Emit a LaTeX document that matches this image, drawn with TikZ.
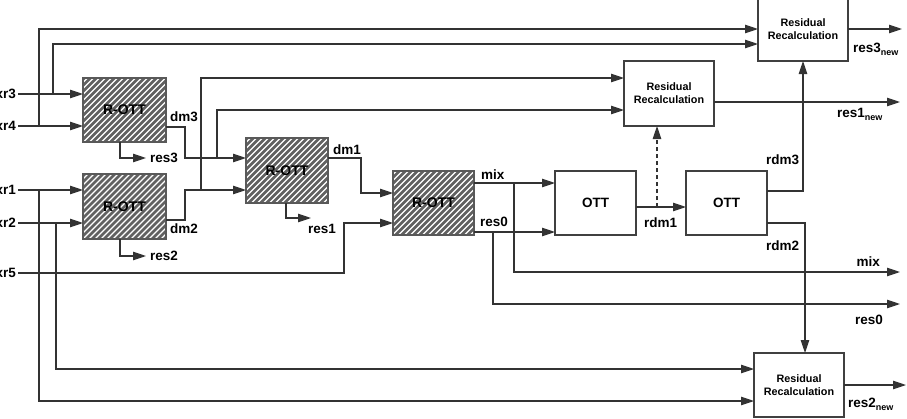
\documentclass[tikz,border=0pt]{standalone}
\usepackage{fontspec}
\setmainfont{Liberation Sans}
\usetikzlibrary{arrows.meta,calc}
\begin{document}
\begin{tikzpicture}[x=1pt,y=-1pt,
  wire/.style={draw=black!80, line width=1.1pt},
  arr/.style={wire, -{Triangle[length=13pt,width=8.5pt]}},
  dasharr/.style={arr, dash pattern=on 4pt off 3pt},
  lbl/.style={inner sep=0pt, font=\bfseries\fontsize{13.5}{16}\selectfont},
  plain/.style={draw=black!75, line width=1.1pt, fill=white, inner sep=0pt, outer sep=0pt},
  ottbox/.style={plain, minimum width=81pt, minimum height=64pt,
    font=\bfseries\fontsize{13.5}{16}\selectfont},
  rrbox/.style={plain, minimum width=90pt, minimum height=64pt, align=center,
    font=\bfseries\fontsize{10.8}{12.8}\selectfont},
  rott/.style={draw=black!65, line width=1.1pt, inner sep=0pt, outer sep=0pt,
    font=\bfseries\fontsize{14}{16}\selectfont,
    path picture={
      \fill[white] (path picture bounding box.south west) rectangle (path picture bounding box.north east);
      \foreach \k in {-14,...,14}{
        \draw[black!62, line width=2.5pt]
          ([xshift=\k*6pt]path picture bounding box.center) ++(-60pt,-60pt) -- ++(120pt,120pt);
      }
    }}
]
\useasboundingbox (0,0) rectangle (907,418);

% ---- blocks ----
\node[rott, minimum width=83pt, minimum height=64pt] (b1) at (124.5,110) {R-OTT};
\node[rott, minimum width=83pt, minimum height=65pt] (b2) at (124.5,206.5) {R-OTT};
\node[rott, minimum width=82pt, minimum height=65pt] (b3) at (287,170.5) {R-OTT};
\node[rott, minimum width=81pt, minimum height=64pt] (b4) at (433.5,203) {R-OTT};
\node[ottbox] (ott1) at (595.5,203) {OTT};
\node[ottbox] (ott2) at (726.5,203) {OTT};
\node[rrbox, minimum height=65pt] (rr1) at (669,93.5) {Residual\\Recalculation};
\node[rrbox] (rr3) at (803,29) {Residual\\Recalculation};
\node[rrbox] (rr2) at (799,385) {Residual\\Recalculation};

% ---- input signals ----
\coordinate (xr3) at (18,94);
\coordinate (xr4) at (18,126);
\coordinate (xr1) at (18,190);
\coordinate (xr2) at (18,223);
\coordinate (xr5) at (18,273);
\node[lbl, anchor=east] (lxr3) at (16,94) {xr3};
\node[lbl, anchor=east] (lxr4) at (16,126) {xr4};
\node[lbl, anchor=east] (lxr1) at (16,190) {xr1};
\node[lbl, anchor=east] (lxr2) at (16,223) {xr2};
\node[lbl, anchor=east] (lxr5) at (16,273) {xr5};

\draw[arr] (xr3) -- (xr3 -| b1.west);
\draw[arr] (xr4) -- (xr4 -| b1.west);
\draw[arr] (xr1) -- (xr1 -| b2.west);
\draw[arr] (xr2) -- (xr2 -| b2.west);

% bypass lines to the outer recalculation blocks
\coordinate (t3) at (53,44);
\coordinate (t4) at (39,29);
\coordinate (t1) at (39,401);
\coordinate (t2) at (56,369);
\draw[arr] (xr3 -| t3) -- (t3) -- (t3 -| rr3.west);
\draw[arr] (xr4 -| t4) -- (t4) -- (t4 -| rr3.west);
\draw[arr] (xr1 -| t1) -- (t1) -- (t1 -| rr2.west);
\draw[arr] (xr2 -| t2) -- (t2) -- (t2 -| rr2.west);

% xr5 into the last R-OTT
\coordinate (t5) at (344,223);
\draw[arr] (xr5) -| (t5) -- (t5 -| b4.west);

% ---- first stage outputs ----
\coordinate (o3) at (166,127);
\coordinate (o2) at (166,220);
\draw[arr] (o3) -- (185,127) -- (185,158) -- (b3.west |- 0,158);
\draw[arr] (o2) -- (185,220) -- (185,190) -- (b3.west |- 0,190);
\coordinate (j3) at (217,158);
\coordinate (j2) at (201,190);
\draw[arr] (j3) -- (217,110) -- (rr1.west |- 0,110);
\draw[arr] (j2) -- (201,78) -- (rr1.west |- 0,78);
\node[lbl, anchor=west] (ldm3) at (170,117) {dm3};
\node[lbl, anchor=west] (ldm2) at (170,229) {dm2};

\coordinate (r3) at (146,158);
\coordinate (r2) at (146,256);
\draw[arr] (b1.south -| 120,0) -- (120,158) -- (r3);
\draw[arr] (b2.south -| 120,0) -- (120,256) -- (r2);
\node[lbl, anchor=west] (lres3) at (150,158) {res3};
\node[lbl, anchor=west] (lres2) at (150,256) {res2};

% ---- second stage ----
\coordinate (o1) at (328,158);
\draw[arr] (o1) -- (361,158) -- (361,193) -- (b4.west |- 0,193);
\node[lbl, anchor=west] (ldm1) at (333,150) {dm1};
\coordinate (r1) at (311,218);
\draw[arr] (b3.south -| 286,0) -- (286,218) -- (r1);
\node[lbl, anchor=west] (lres1) at (308,229) {res1};

% ---- third stage ----
\coordinate (om) at (474,183);
\coordinate (or) at (474,232);
\draw[arr] (om) -- (om -| ott1.west);
\draw[arr] (or) -- (or -| ott1.west);
\node[lbl, anchor=west] (lmix) at (481,175) {mix};
\node[lbl, anchor=west] (lres0) at (480,222) {res0};
\coordinate (jm) at (514,183);
\coordinate (jr) at (493,232);
\coordinate (mixout) at (900,272);
\coordinate (res0out) at (900,304);
\draw[arr] (jm) |- (mixout);
\draw[arr] (jr) |- (res0out);
\node[lbl, anchor=east] (lmixo) at (880,262) {mix};
\node[lbl, anchor=east] (lres0o) at (883,320) {res0};

% ---- OTT chain ----
\coordinate (od1) at (636,207);
\draw[arr] (od1) -- (od1 -| ott2.west);
\node[lbl, anchor=west] (lrdm1) at (644,223) {rdm1};
\coordinate (jd) at (657,207);
\draw[dasharr] (jd) -- (jd |- rr1.south);

\coordinate (od3) at (767,191);
\coordinate (od2) at (767,223);
\draw[arr] (od3) -| (rr3.south);
\draw[arr] (od2) -- (805,223) -- (805,353);
\node[lbl, anchor=west] (lrdm3) at (766,160) {rdm3};
\node[lbl, anchor=west] (lrdm2) at (766,246) {rdm2};

% ---- recalculated residuals ----
\coordinate (n1) at (900,102);
\coordinate (n3) at (902,29);
\coordinate (n2) at (906,385);
\draw[arr] (rr1.east |- n1) -- (n1);
\draw[arr] (rr3.east) -- (n3);
\draw[arr] (rr2.east) -- (n2);
\node[lbl, anchor=west] (lnew1) at (837,114) {res1\raisebox{-3pt}{\fontsize{9}{9}\selectfont new}};
\node[lbl, anchor=west] (lnew3) at (853,49) {res3\raisebox{-3pt}{\fontsize{9}{9}\selectfont new}};
\node[lbl, anchor=west] (lnew2) at (848,404) {res2\raisebox{-3pt}{\fontsize{9}{9}\selectfont new}};
\end{tikzpicture}
\end{document}
